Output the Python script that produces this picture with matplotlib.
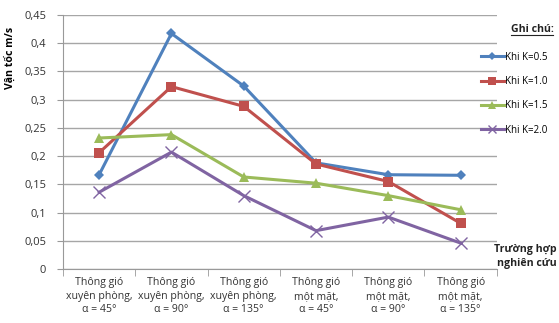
import matplotlib
matplotlib.use("Agg")
import matplotlib.pyplot as plt
import numpy as np

plt.rcParams["font.family"] = ["Open Sans", "DejaVu Sans"]

categories = [
    "Thông gió\nxuyên phòng,\nα = 45°",
    "Thông gió\nxuyên phòng,\nα = 90°",
    "Thông gió\nxuyên phòng,\nα = 135°",
    "Thông gió\nmột mặt,\nα = 45°",
    "Thông gió\nmột mặt,\nα = 90°",
    "Thông gió\nmột mặt,\nα = 135°",
]
k05 = [0.167, 0.417, 0.324, 0.188, 0.167, 0.166]
k10 = [0.206, 0.323, 0.288, 0.186, 0.155, 0.081]
k15 = [0.232, 0.238, 0.163, 0.152, 0.130, 0.105]
k20 = [0.136, 0.207, 0.130, 0.068, 0.092, 0.046]
labels = ["Khi K=0.5", "Khi K=1.0", "Khi K=1.5", "Khi K=2.0"]
yticks = [0, 0.05, 0.1, 0.15, 0.2, 0.25, 0.3, 0.35, 0.4, 0.45]

colors = ["#4F81BD", "#C0504D", "#9BBB59", "#8064A2"]
markers = ["D", "s", "^", "x"]
msizes = [5, 7, 7, 8]

fig = plt.figure(figsize=(5.59, 3.23), dpi=100)
ax = fig.add_axes([0.1127, 0.167, 0.776, 0.787])

x = np.arange(len(categories))
for vals, lab, c, m, ms in zip([k05, k10, k15, k20], labels, colors, markers, msizes):
    ax.plot(x, vals, color=c, lw=2.2, marker=m, ms=ms, mew=1 if m == "x" else 0,
            mec=c, label=lab)

ax.set_xlim(-0.5, 5.5)
ax.set_ylim(0, 0.45)
ax.set_yticks(yticks)
ax.set_yticklabels([("%g" % v).replace(".", ",") for v in yticks], fontsize=8, color="#333333")
ax.set_xticks(x)
ax.set_xticklabels(categories, fontsize=7.6, color="#333333", linespacing=1.3)
ax.set_xticks(np.arange(-0.5, 6, 1), minor=True)
ax.tick_params(axis="x", which="major", length=0, pad=6)
ax.tick_params(axis="x", which="minor", length=5, color="#999999", direction="out")
ax.tick_params(axis="y", length=4, color="#999999", direction="out", pad=8)
ax.grid(axis="y", color="#A6A6A6", lw=1)
ax.set_axisbelow(True)
for s in ["top", "right"]:
    ax.spines[s].set_visible(False)
for s in ["left", "bottom"]:
    ax.spines[s].set_color("#999999")

ax.set_ylabel("Vận tốc m/s", fontsize=7.6, fontweight="bold")
ax.yaxis.set_label_coords(-0.11, 0.83)

fig.text(0.952, 0.9, "Ghi chú:", fontsize=7.6, fontweight="bold", ha="center",
         color="#222222")
fig.add_artist(plt.Line2D([0.915, 0.99], [0.893, 0.893], color="#222222", lw=0.8))
leg = ax.legend(loc="upper left", bbox_to_anchor=(0.954, 0.87), frameon=False,
                fontsize=7, handlelength=2.4, handletextpad=0.1, labelspacing=1.37,
                borderaxespad=0, markerscale=0.75)

fig.text(0.995, 0.245, "Trường hợp\nnghiên cứu", fontsize=7.6, fontweight="bold",
         ha="right", va="top", color="#222222", linespacing=1.35)

fig.savefig("out.png", dpi=100)
